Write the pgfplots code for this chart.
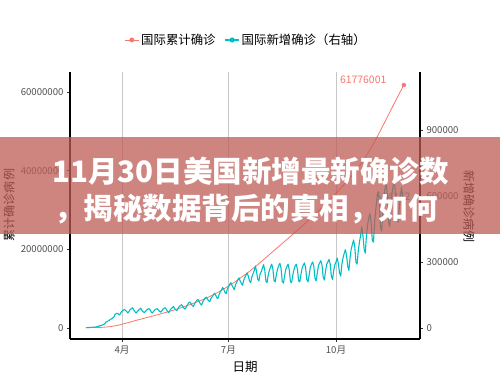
\documentclass[border=0pt]{standalone}
\usepackage{fontspec}
\setmainfont{Noto Sans CJK SC}
\usepackage{pgfplots}
\pgfplotsset{compat=1.18}
\definecolor{cumred}{HTML}{F8766D}
\definecolor{newcyan}{HTML}{00BFC4}
\definecolor{tickgray}{RGB}{77,77,77}
\definecolor{bandcol}{RGB}{190,92,86}
\begin{document}
\begin{tikzpicture}[x=1pt,y=1pt]
\path[use as bounding box] (0,0) rectangle (500,375);
\pgfplotsset{
  myaxis/.style={
    at={(70pt,36pt)}, anchor=south west, scale only axis,
    width=350pt, height=267pt,
    xmin=47.5, xmax=346.8,
    tick align=outside, major tick length=3pt,
    tick style={color=black!80, line width=0.6pt},
    axis line style={line width=1.1pt,-},
    tick label style={font=\fontsize{9.6}{10}\selectfont, text=tickgray},
    scaled y ticks=false,
    clip=false,
  }
}
\begin{axis}[myaxis,
  axis x line*=bottom, axis y line*=left,
  ymin=-2797000, ymax=65085000,
  xtick={92,183,275}, xticklabels={4月,7月,10月},
  ytick={0,20000000,40000000,60000000},
  yticklabels={0,20000000,40000000,60000000},
  xmajorgrids, major grid style={draw=black!22, line width=0.6pt},
]
\addplot[cumred, line width=0.8pt, line join=round] coordinates {
(61,88000) (68,110000) (75,170000) (82,340000) (89,720000) (96,1270000)
(103,1850000) (110,2400000) (117,2950000) (124,3500000) (131,4100000)
(138,4720000) (145,5400000) (152,6150000) (159,6950000) (166,7850000)
(173,8900000) (180,10100000) (187,11400000) (194,12900000) (201,14400000)
(208,16100000) (215,17900000) (222,19700000) (229,21500000) (236,23300000)
(243,25100000) (250,27000000) (257,28900000) (264,30900000) (271,33000000)
(278,35200000) (285,37500000) (292,40000000) (299,42900000) (306,46300000)
(313,50200000) (320,54300000) (327,58400000) (333,61776001)
};
\addplot[cumred, only marks, mark=*, mark size=2pt] coordinates {(333,61776001)};
\node[anchor=east, text=cumred, font=\fontsize{10.4}{11}\selectfont] at (axis cs:321,63000000) {61776001};
\end{axis}
\begin{axis}[myaxis,
  axis y line*=right, axis x line=none,
  ymin=-50000, ymax=1163636,
  ytick={0,300000,600000,900000},
  yticklabels={0,300000,600000,900000},
  legend style={at={(0.503,1.12)}, anchor=center, draw=none, fill=none,
    legend columns=-1, font=\fontsize{12.4}{12}\selectfont,
    /tikz/every even column/.append style={column sep=7pt}},
  legend image code/.code={\draw[#1,mark repeat=2,mark phase=2] plot coordinates {(0pt,0pt) (7pt,0pt) (14pt,0pt)};},
]
\addlegendimage{cumred, line width=0.8pt, mark=*, mark size=2pt}
\addlegendentry{国际累计确诊}
\addlegendimage{newcyan, line width=1.1pt, mark=*, mark size=2pt}
\addlegendentry{国际新增确诊（右轴）}
\addplot[newcyan, line width=1.1pt, line join=round, forget plot] coordinates {
(61,2000) (62,2000) (63,2000) (64,3000) (65,3000) (66,3000) (67,4000)
(68,4000) (69,4000) (70,5000) (71,7000) (72,8000) (73,11000) (74,11000)
(75,13000) (76,16000) (77,18000) (78,26000) (79,29000) (80,32000) (81,33000)
(82,40000) (83,41000) (84,46000) (85,50000) (86,62000) (87,66000) (88,66000)
(89,63000) (90,60000) (91,70000) (92,76000) (93,80000) (94,84000) (95,80000)
(96,75000) (97,68000) (98,76000) (99,84000) (100,88000) (101,92000) (102,82000)
(103,74000) (104,68000) (105,74000) (106,80000) (107,86000) (108,90000) (109,80000)
(110,74000) (111,70000) (112,75000) (113,82000) (114,86000) (115,88000) (116,82000)
(117,72000) (118,68000) (119,76000) (120,82000) (121,86000) (122,88000) (123,82000)
(124,76000) (125,72000) (126,78000) (127,86000) (128,90000) (129,92000) (130,84000)
(131,74000) (132,70000) (133,80000) (134,88000) (135,92000) (136,98000) (137,88000)
(138,82000) (139,80000) (140,90000) (141,98000) (142,102000) (143,106000) (144,98000)
(145,90000) (146,86000) (147,96000) (148,106000) (149,114000) (150,118000) (151,110000)
(152,102000) (153,98000) (154,110000) (155,118000) (156,126000) (157,130000) (158,120000)
(159,110000) (160,104000) (161,118000) (162,128000) (163,136000) (164,140000) (165,132000)
(166,124000) (167,120000) (168,134000) (169,142000) (170,150000) (171,158000) (172,150000)
(173,138000) (174,134000) (175,152000) (176,164000) (177,172000) (178,184000) (179,176000)
(180,162000) (181,156000) (182,176000) (183,188000) (184,198000) (185,206000) (186,194000)
(187,184000) (188,174000) (189,196000) (190,208000) (191,218000) (192,228000) (193,214000)
(194,204000) (195,194000) (196,216000) (197,230000) (198,240000) (199,250000) (200,236000)
(201,214000) (202,206000) (203,232000) (204,246000) (205,260000) (206,282000) (207,258000)
(208,222000) (209,214000) (210,244000) (211,256000) (212,272000) (213,288000) (214,266000)
(215,214000) (216,206000) (217,240000) (218,262000) (219,278000) (220,290000) (221,268000)
(222,216000) (223,210000) (224,244000) (225,268000) (226,284000) (227,294000) (228,270000)
(229,212000) (230,204000) (231,238000) (232,266000) (233,280000) (234,290000) (235,264000)
(236,210000) (237,206000) (238,240000) (239,264000) (240,282000) (241,290000) (242,266000)
(243,214000) (244,210000) (245,244000) (246,272000) (247,286000) (248,296000) (249,272000)
(250,220000) (251,210000) (252,240000) (253,276000) (254,290000) (255,300000) (256,280000)
(257,226000) (258,214000) (259,252000) (260,284000) (261,296000) (262,306000) (263,286000)
(264,232000) (265,218000) (266,258000) (267,290000) (268,300000) (269,312000) (270,290000)
(271,236000) (272,220000) (273,262000) (274,288000) (275,300000) (276,318000) (277,292000)
(278,250000) (279,236000) (280,290000) (281,320000) (282,340000) (283,356000) (284,330000)
(285,280000) (286,262000) (287,320000) (288,360000) (289,380000) (290,400000) (291,370000)
(292,300000) (293,290000) (294,350000) (295,390000) (296,420000) (297,460000) (298,420000)
(299,360000) (300,340000) (301,420000) (302,470000) (303,500000) (304,520000) (305,480000)
(306,400000) (307,390000) (308,480000) (309,540000) (310,590000) (311,620000) (312,580000)
(313,460000) (314,440000) (315,520000) (316,600000) (317,640000) (318,650000) (319,600000)
(320,480000) (321,460000) (322,560000) (323,620000) (324,650000) (325,660000) (326,600000)
(327,500000) (328,480000) (329,540000) (330,600000) (331,640000) (332,600000) (333,564152)
};
\addplot[newcyan, only marks, mark=*, mark size=2pt, forget plot] coordinates {(333,564152)};
\node[anchor=west, text=newcyan, font=\fontsize{10.4}{11}\selectfont] at (axis cs:306,597000) {564152};
\end{axis}
% axis titles
\node[rotate=90, font=\fontsize{12}{12}\selectfont] at (9,170) {累计确诊病例};
\node[rotate=-90, font=\fontsize{12}{12}\selectfont] at (469,168) {新增确诊病例};
\node[font=\fontsize{12.5}{13}\selectfont] at (245,8) {日期};
% banner
\fill[bandcol, opacity=0.75] (0,141) rectangle (500,238);
\node[anchor=base west, inner sep=0, text=white, font=\bfseries\fontsize{29.5}{30}\selectfont] at (52,192) {11月30日美国新增最新确诊数};
\node[anchor=base west, inner sep=0, text=white, font=\bfseries\fontsize{29.5}{30}\selectfont] at (54,156) {，揭秘数据背后的真相，如何};
\end{tikzpicture}
\end{document}
